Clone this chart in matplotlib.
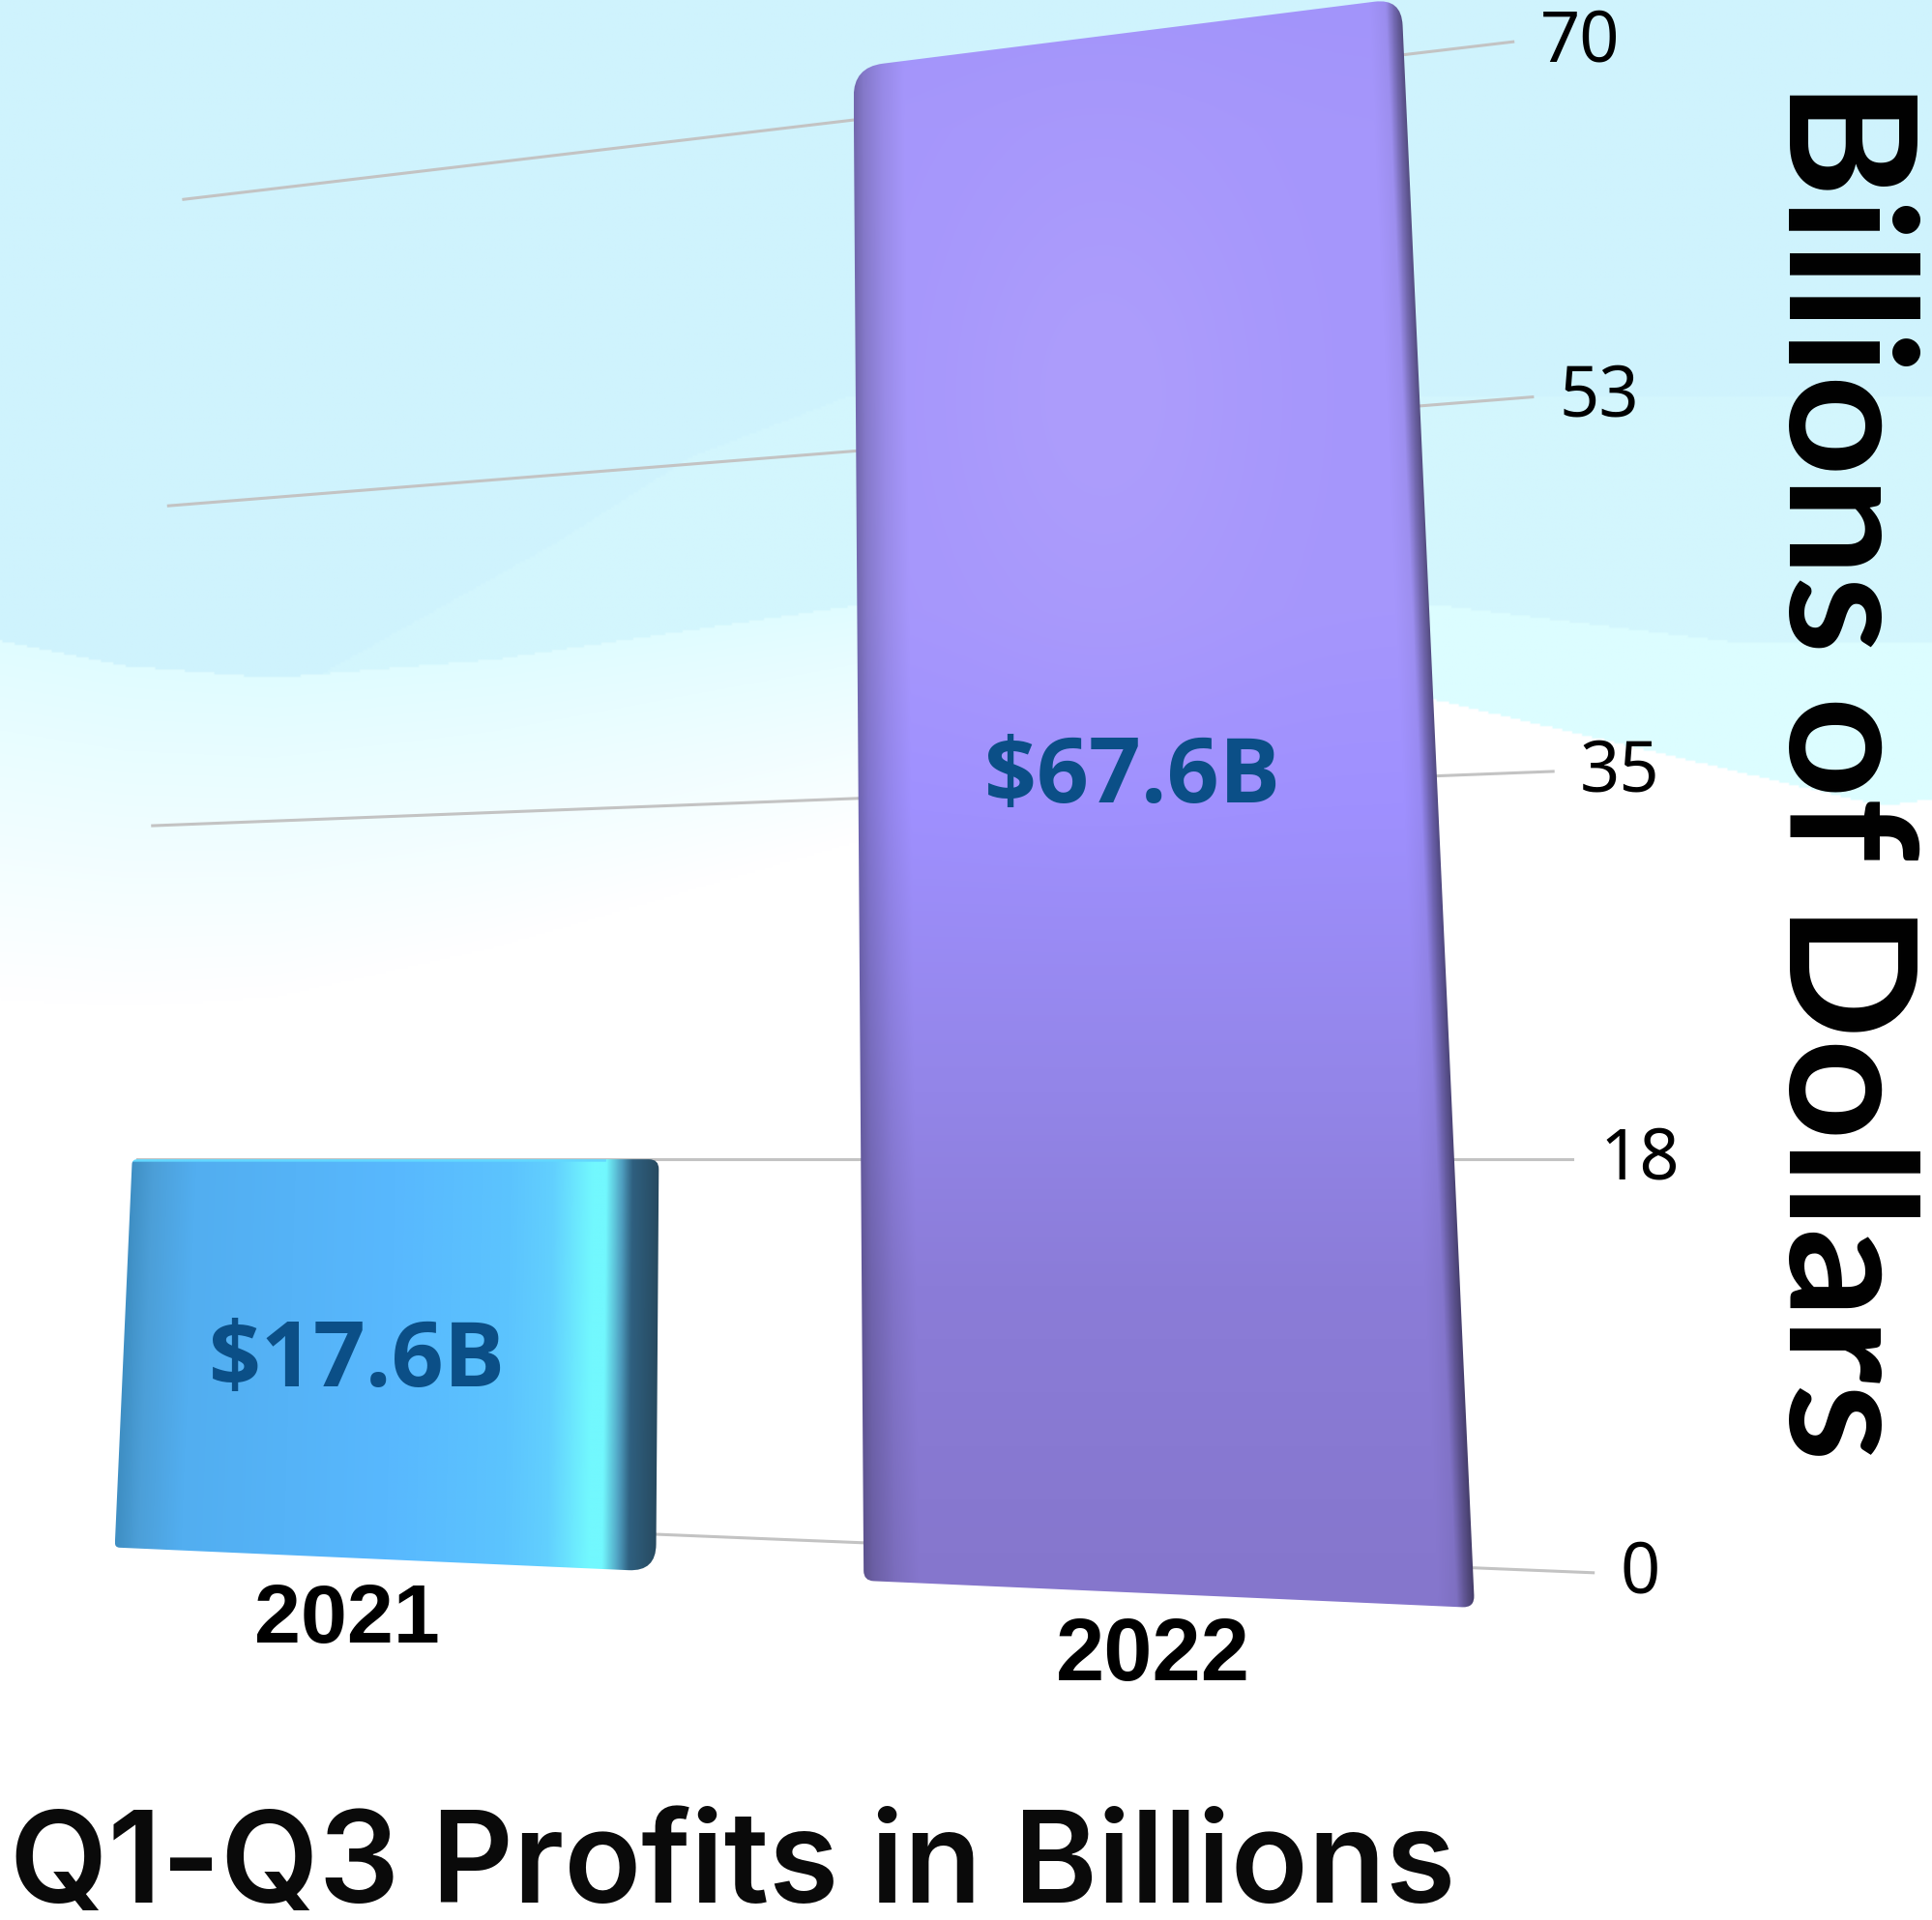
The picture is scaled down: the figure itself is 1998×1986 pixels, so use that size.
import matplotlib
matplotlib.use("Agg")
import matplotlib.pyplot as plt
import numpy as np
from matplotlib.path import Path
from matplotlib.patches import PathPatch

plt.rcParams['font.family'] = ['Lato', 'DejaVu Sans']

years = ['2021', '2022']
profits = [17.6, 67.6]
value_labels = ['$17.6B', '$67.6B']
ticks = [0, 18, 35, 53, 70]
title = 'Q1-Q3 Profits in Billions'
y_title = 'Billions of Dollars'

# picture is worked out in a 1568 wide space, same as the preview
W, H = 1568, 1558.5
XC = 620
WALL_L, WALL_R = -471, 608
TICK_Y = [1249, 941, 651, 372, 106]
HORIZON = 18.0
BAR_SCALE = 1.105
BAR_CENTER = 13.8
BAR_U = [(-475, -79), (73, 520)]


def level(v):
    # height of a value on the centre line, runs on past both ends of the axis
    v = np.asarray(v, dtype=float)
    y = np.interp(v, ticks, TICK_Y)
    y = np.where(v < 0, TICK_Y[0] - v * 21, y)
    return np.where(v > 70, TICK_Y[-1] - (v - 70) * 13, y)


def project(u, v):
    """Perspective mapping of (across, value) on to the picture."""
    x = XC + u * (1.107 - 0.00153 * v)
    y = level(v) - 0.00228 * (v - HORIZON) * (x - XC)
    return x, y


def front(u, v):
    # bars stand in front of the wall so they read bigger
    return project(u, BAR_CENTER + (v - BAR_CENTER) * BAR_SCALE)


def bar_path(corners, radii):
    verts, codes = [], []
    n = len(corners)
    for i, c in enumerate(corners):
        c = np.array(c, dtype=float)
        prev = np.array(corners[i - 1], dtype=float)
        nxt = np.array(corners[(i + 1) % n], dtype=float)
        a = c + (prev - c) / np.linalg.norm(prev - c) * radii[i]
        b = c + (nxt - c) / np.linalg.norm(nxt - c) * radii[i]
        verts += [a, c, b]
        codes += [Path.LINETO if i else Path.MOVETO, Path.CURVE3, Path.CURVE3]
    verts.append(verts[0])
    codes.append(Path.CLOSEPOLY)
    return Path(verts, codes)


def lerp_stops(t, pos, cols):
    return np.stack([np.interp(t, pos, [c[k] for c in cols]) for k in range(3)], -1)


def hexc(s):
    return tuple(int(s[i:i + 2], 16) / 255 for i in (1, 3, 5))


fig = plt.figure(figsize=(9.99, 9.93), dpi=200)
ax = fig.add_axes([0, 0, 1, 1])
ax.set_xlim(0, W)
ax.set_ylim(H, 0)
ax.axis('off')

# background wash, cyan on top, soft fade left of the tall bar, hard edge right of it
xx, yy = np.meshgrid(np.arange(0, W, 2.0), np.arange(0, H, 2.0))
edge1 = np.interp(xx[0], [0, 100, 220, 400, 700, 1170, 1400, 1568], [520, 540, 550, 535, 490, 491, 520, 522])
edge2 = np.interp(xx[0], [1000, 1170, 1527, 1568], [540, 569, 654, 648])
fade = np.interp(xx[0], [0, 700], [290, 190])
soft = lerp_stops(np.clip((yy - edge1) / fade, 0, 1), [0, 0.25, 1], [hexc('#e0fcff'), hexc('#e8fdff'), hexc('#ffffff')])
hard = np.where((yy < edge2)[..., None], np.array(hexc('#dcfdff')), np.array(hexc('#ffffff')))
bg = np.where((xx < 1000)[..., None], soft, hard)
patch_edge = np.interp(xx[0], [250, 450, 560, 690, 1000], [552, 440, 370, 320, 320])
top_col = np.where((yy > patch_edge)[..., None], np.array(hexc('#d3f6fd')), np.array(hexc('#cff3fd')))
bg = np.where((yy < edge1)[..., None], top_col, bg)
ax.imshow(bg, extent=[0, W, H, 0], aspect='auto', zorder=0)

# gridlines and tick labels
for t in ticks:
    xs, ys = project(np.array([WALL_L, WALL_R]), t)
    ax.plot(xs, ys, color='#c3c3c3', lw=1.1, zorder=1)
    ax.text(xs[1] + 22, ys[1] + 1, str(t), fontsize=26, family='Noto Sans', color='#000000',
            va='center', ha='left', zorder=5)

# bars
for i, (u0, u1) in enumerate(BAR_U):
    corners = [front(u0, 0), front(u1, 0), front(u1, profits[i]), front(u0, profits[i])]
    path = bar_path(corners, [4, 22, 8, 4] if i == 0 else [8, 10, 22, 24])
    x0, x1 = path.vertices[:, 0].min(), path.vertices[:, 0].max()
    y0, y1 = path.vertices[:, 1].min(), path.vertices[:, 1].max()
    px, py = np.meshgrid(np.linspace(x0, x1, 500), np.linspace(y0, y1, 700))
    # position across the bar follows its slanted sides
    t = (py - y0) / (y1 - y0)
    left = corners[3][0] + (corners[0][0] - corners[3][0]) * t
    right = corners[2][0] + (corners[1][0] - corners[2][0]) * t
    gx = (px - left) / (right - left)
    if i == 0:
        img = lerp_stops(gx, [0, 0.04, 0.12, 0.5, 0.72, 0.8, 0.875, 0.9, 0.93, 0.95, 1.0],
                         [hexc('#3f8fc4'), hexc('#4c9fd8'), hexc('#52aef0'), hexc('#58b8fe'), hexc('#5cc4fe'),
                          hexc('#62d0fe'), hexc('#72f8fe'), hexc('#72f8fe'), hexc('#4f9fc0'),
                          hexc('#2f6080'), hexc('#274a60')])
        rim = (t < 0.008)[..., None] & (gx < 0.9)[..., None]
        img = np.where(rim, np.array(hexc('#62d8ff')), img)
    else:
        base = lerp_stops(t, [0, 0.08, 0.38, 0.5, 0.68, 0.8, 1.0],
                          [hexc('#a294fa'), hexc('#a596fb'), hexc('#a596fc'), hexc('#9f90ff'),
                           hexc('#9385e8'), hexc('#8b7cd8'), hexc('#8576cc')])
        # soft lighter patch in the upper middle
        blob = np.exp(-(((px - 895) / 130) ** 2 + ((py - 320) / 210) ** 2))
        base = base + blob[..., None] * (np.array(hexc('#ad9dfb')) - base)
        shade = np.interp(gx, [0, 0.015, 0.05, 0.09, 0.94, 0.97, 0.985, 1.0], [0.7, 0.8, 0.92, 1, 1, 0.95, 0.7, 0.5])
        img = base * shade[..., None]
    im = ax.imshow(img, extent=[x0, x1, y1, y0], aspect='auto', zorder=3)
    im.set_clip_path(PathPatch(path, transform=ax.transData))
    cx = {0: 290, 1: 919}[i]
    cy = {0: 1106, 1: 632}[i]
    ax.text(cx, cy, value_labels[i], fontsize=34, fontweight='bold', family='Open Sans', color='#0b4f87',
            ha='center', va='center', zorder=6)
    lx = {0: 282, 1: 936}[i]
    ly = {0: 1333, 1: 1364}[i]
    ax.text(lx, ly, years[i], fontsize=31 + i * 1.5, fontweight='bold', family='Liberation Sans', color='#000000',
            ha='center', va='baseline', zorder=6)

ax.set_xlim(0, W)
ax.set_ylim(H, 0)

ax.text(1452, 625, y_title, rotation=-90, rotation_mode='anchor', fontsize=65.8, fontweight='bold', color='#000000',
        ha='center', va='baseline', zorder=6)
ax.text(8, 1544, title, fontsize=47.3, fontweight=600, family='Inter', color='#0a0a0a', ha='left', va='baseline', zorder=6)

fig.savefig('out.png', dpi=200)
